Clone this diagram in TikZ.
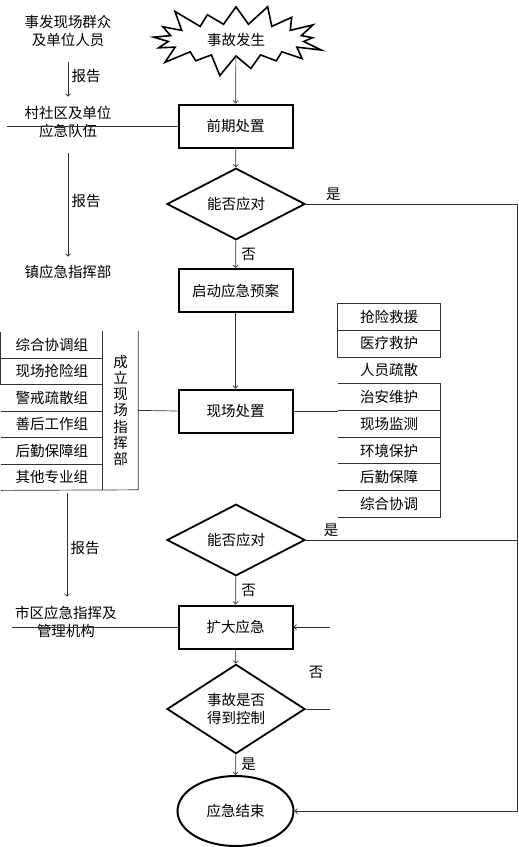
\documentclass[tikz,border=0pt]{standalone}
\usepackage{fontspec}
\setmainfont{Noto Sans CJK SC}
\usetikzlibrary{shapes.geometric,shapes.symbols,arrows.meta,positioning}

\begin{document}
\begin{tikzpicture}[x=1pt,y=-1pt,font=\fontsize{14.5}{18}\selectfont,
  >={Straight Barb[length=2.5pt,width=5pt]},
  link/.style={draw=black!80,line width=0.7pt},
  box/.style={draw,line width=2pt,minimum width=114pt,minimum height=43pt},
  decide/.style={draw,diamond,line width=1.8pt,minimum width=138pt,minimum height=66pt,inner sep=0pt,align=center},
  slot/.style={minimum width=102pt,minimum height=26.4pt,inner sep=0pt},
  tag/.style={right,xshift=2pt}]
  \useasboundingbox (0,0) rectangle (519,847);

  \node[starburst,draw,line width=1.6pt,starburst points=17,starburst point height=24pt,
        minimum width=184pt,minimum height=80pt] (incident) at (236,40) {事故发生};
  \node[box] (early) at (235.5,126) {前期处置};
  \node[decide] (judge1) at (236,204) {能否应对};
  \node[box] (plan) at (235.5,290.5) {启动应急预案};
  \node[box] (scene) at (235.5,411) {现场处置};
  \node[decide] (judge2) at (236,540) {能否应对};
  \node[box] (expand) at (235.5,627) {扩大应急};
  \node[decide] (judge3) at (236,709) {事故是否\\得到控制};
  \node[draw,ellipse,line width=2pt,minimum width=116pt,minimum height=70pt] (finish) at (235.5,811) {应急结束};

  \node[align=center] (crowd) at (68,31) {事发现场群众\\及单位人员};
  \node[align=center] (village) at (68,122) {村社区及单位\\应急队伍};
  \node (town) at (68,272) {镇应急指挥部};
  \node[align=center] (city) at (66,622) {市区应急指挥及\\管理机构};

  \foreach \txt [count=\i] in {综合协调组,现场抢险组,警戒疏散组,善后工作组,后勤保障组,其他专业组}
    \node[slot] (grp\i) at (52,318.6+26.4*\i) {\txt};
  \node[slot,minimum width=35pt,minimum height=158.4pt,align=center,font=\fontsize{14.5}{16.3}\selectfont]
    (command) at (120.5,410.4) {成\\立\\现\\场\\指\\挥\\部};
  \foreach \i in {1,...,5}
    \draw[link] (grp\i.south west) -- (grp\i.south east);
  \draw[link] (grp1.north west) -- (grp2.south west);
  \draw[link] (command.north west) -- (grp6.south west -| command.south west);
  \draw[link] (grp6.south west) -- (command.south east) -- (command.north east);

  \foreach \txt [count=\i] in {抢险救援,医疗救护,人员疏散,治安维护,现场监测,环境保护,后勤保障,综合协调}
    \node[slot,minimum height=26.8pt] (task\i) at (389,289.7+26.8*\i) {\txt};
  \draw[link] (task1.north west) rectangle (task2.south east) (task1.south west) -- (task1.south east);
  \foreach \i in {4,...,8}
    \draw[link] (task\i.north west) -- (task\i.north east) -- (task\i.south east);
  \draw[link] (task8.south west) -- (task8.south east);

  \coordinate (railtop) at (517,204);
  \coordinate (railmid) at (517,540);
  \coordinate (railbot) at (517,811);
  \coordinate (villageend) at (7,126);
  \coordinate (cityend) at (12,627);
  \coordinate (reportstart) at (67,493);
  \coordinate (retry) at (330,627);
  \coordinate (loopend) at (330,709);

  \draw[link,->] (incident) -- (early);
  \draw[link,->] (early) -- (judge1);
  \draw[link,->] (judge1) -- node[tag] (no1) {否} (plan);
  \draw[link,->] (plan) -- (scene);
  \draw[link,->] (judge2) -- node[tag] (no2) {否} (expand);
  \draw[link,->] (expand) -- (judge3);
  \draw[link,->] (judge3) -- node[tag] (yes3) {是} (finish);
  \draw[link,->] (judge1.east) -- node[pos=0.13,above] (yes1) {是} (railtop) -- (railbot) -- (finish.east);
  \draw[link] (judge2.east) -- node[pos=0.12,above] (yes2) {是} (railmid);
  \draw[link,->] (retry) -- (expand.east);
  \draw[link] (judge3.east) -- (loopend);
  \node (no3) at (316,672) {否};

  \draw[link] (villageend) -- (early.west);
  \draw[link] (cityend) -- (expand.west);
  \draw[link] (command.east) -- (scene.west);
  \draw[link] (scene.east) -- (scene.east -| task4.west);

  \draw[link,->,shorten <=12pt,shorten >=6pt] (crowd) -- node[right] (report1) {报告} (village);
  \draw[link,->,shorten <=12pt,shorten >=5pt] (village) -- node[right] (report2) {报告} (town);
  \draw[link,->,shorten >=6pt] (reportstart) -- node[right] (report3) {报告} (reportstart |- city.north);
\end{tikzpicture}
\end{document}
